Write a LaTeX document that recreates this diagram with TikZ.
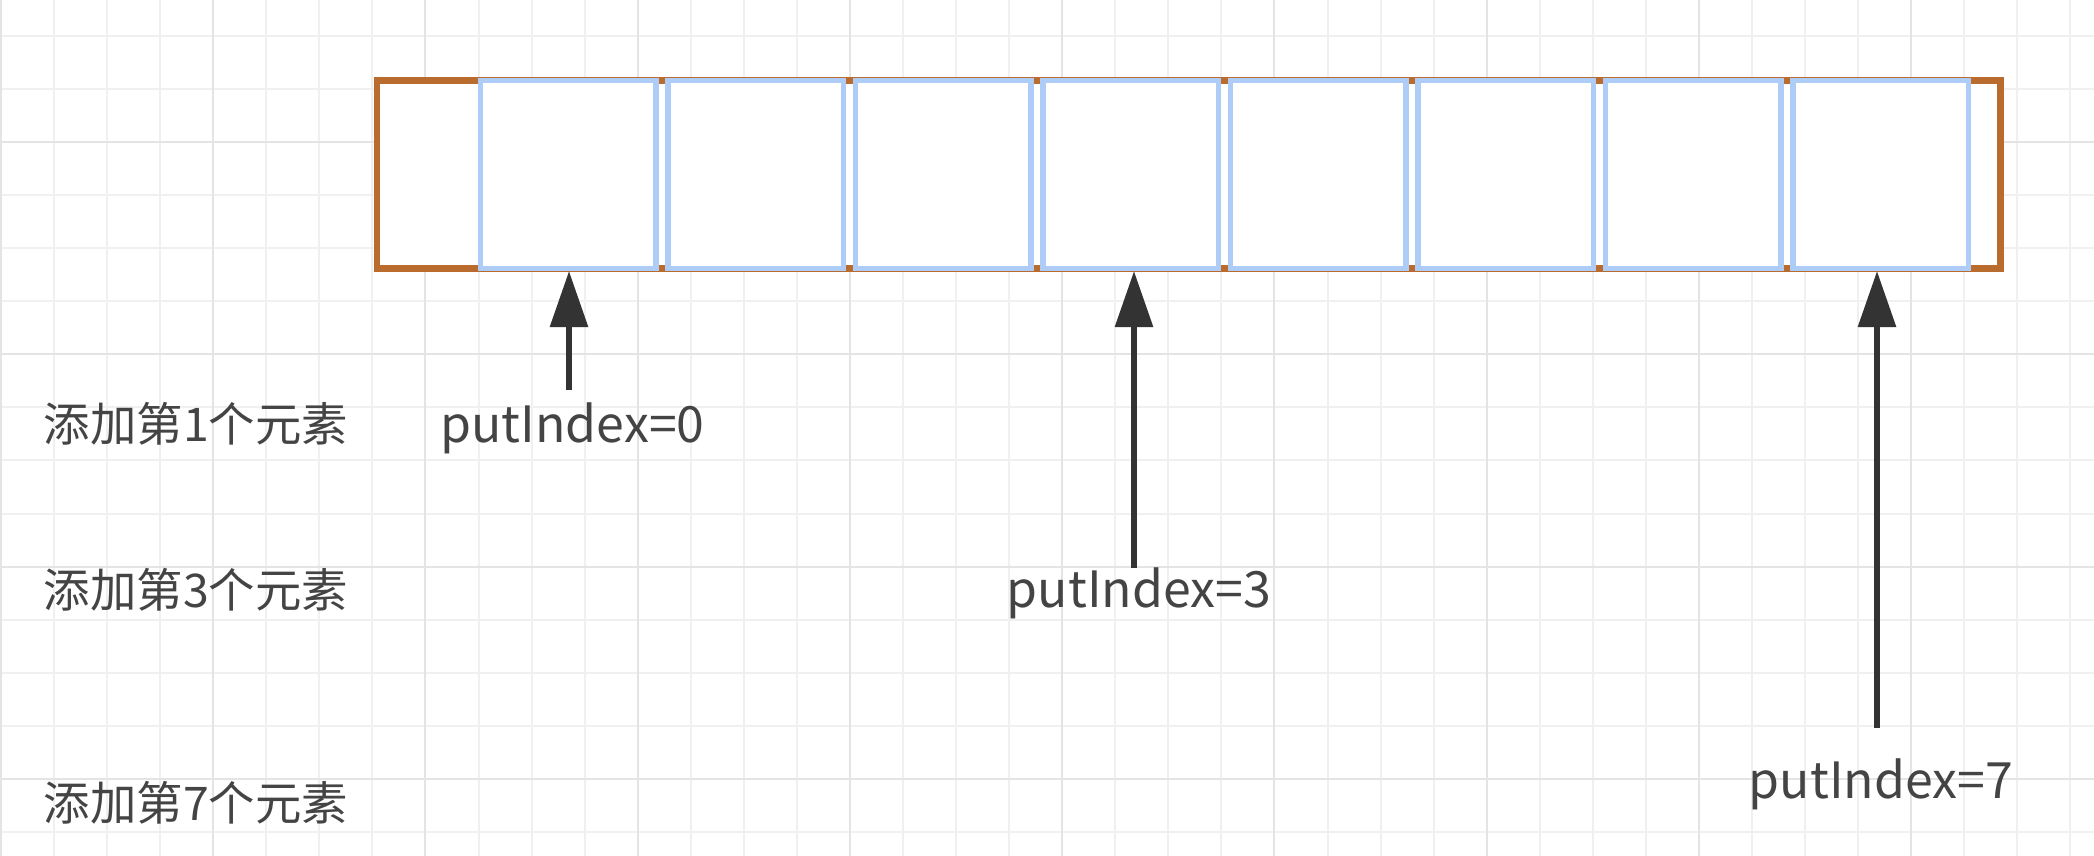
\documentclass[tikz,border=0pt]{standalone}
\usepackage{fontspec}
\newfontfamily\cjk{Noto Sans CJK SC}
\usetikzlibrary{arrows.meta}
\definecolor{gridminor}{HTML}{F0F0F0}
\definecolor{gridmajor}{HTML}{E4E4E4}
\definecolor{frameorange}{HTML}{BA6C2E}
\definecolor{cellblue}{HTML}{ADCCF7}
\definecolor{ink}{HTML}{333333}
\definecolor{txt}{HTML}{444444}
\tikzset{
  minorline/.style={draw=gridminor, line width=1pt},
  majorline/.style={draw=gridmajor, line width=1pt},
  framebox/.style={draw=frameorange, fill=white, line width=3.25pt, minimum width=811.65pt, minimum height=94pt, inner sep=0pt},
  cellbox/.style={draw=cellblue, fill=white, line width=2.75pt, minimum width=87.75pt, minimum height=94pt, inner sep=0pt},
  steplabel/.style={font=\cjk\fontsize{23.2}{28}\selectfont, text=txt, inner sep=0pt},
  idxlabel/.style={font=\cjk\fontsize{25}{30}\selectfont, text=txt, inner sep=0pt, anchor=base},
  ptr/.style={draw=ink, line width=3pt, -{Triangle[length=28pt,width=18.5pt]}}
}
\begin{document}
\begin{tikzpicture}[x=0.5pt,y=-0.5pt]
\useasboundingbox[fill=white] (0,0) rectangle (2094,856);
% grid
\foreach \k in {0,...,39} {\draw[minorline] ({1+53.06*\k},0) -- ({1+53.06*\k},856);}
\foreach \k in {0,...,15} {\draw[minorline] (0,{36+53.06*\k}) -- (2094,{36+53.06*\k});}
\foreach \k in {0,4,...,36} {\draw[majorline] ({1+53.06*\k},0) -- ({1+53.06*\k},856);}
\foreach \k in {2,6,10,14} {\draw[majorline] (0,{36+53.06*\k}) -- (2094,{36+53.06*\k});}
% array
\node[framebox] (arr) at (1188.65,174.4) {};
\foreach \i in {0,...,7} {\node[cellbox] (c\i) at ({568.05+187.5*\i},174.3) {};}
% labels
\node[steplabel] (l1) at (196,423.5) {添加第1个元素};
\node[steplabel] (l3) at (196,590) {添加第3个元素};
\node[steplabel] (l7) at (196,803) {添加第7个元素};
\node[idxlabel] (p0) at (572.5,442) {putIndex=0};
\node[idxlabel] (p3) at (1139,607) {putIndex=3};
\node[idxlabel] (p7) at (1881,798) {putIndex=7};
% pointers
\coordinate (t0) at (569,390);
\coordinate (t3) at (1134,568);
\coordinate (t7) at (1877,728);
\draw[ptr] (t0) -- (t0 |- c0.south);
\draw[ptr] (t3) -- (t3 |- c3.south);
\draw[ptr] (t7) -- (t7 |- c7.south);
\end{tikzpicture}
\end{document}
